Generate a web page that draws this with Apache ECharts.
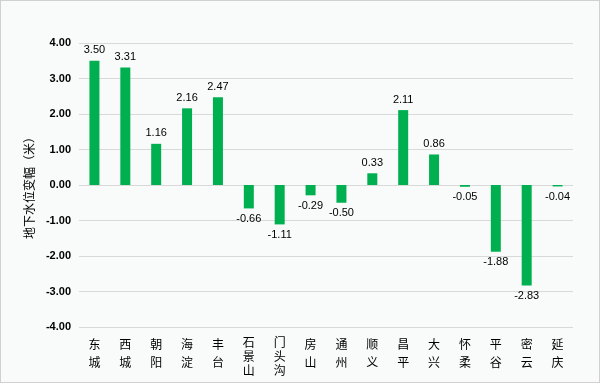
<!DOCTYPE html>
<html><head><meta charset="utf-8">
<script src="https://cdn.jsdelivr.net/npm/echarts@6/dist/echarts.min.js"></script>
<style>html,body{margin:0;padding:0;background:#fff}#c{width:600px;height:383px;box-sizing:border-box;border:1px solid #d0d0d0;background:#f9fafa}</style>
</head><body><div id="c"></div>
<script>
const categories = ["东城","西城","朝阳","海淀","丰台","石景山","门头沟","房山","通州","顺义","昌平","大兴","怀柔","平谷","密云","延庆"];
const values = [3.50,3.31,1.16,2.16,2.47,-0.66,-1.11,-0.29,-0.50,0.33,2.11,0.86,-0.05,-1.88,-2.83,-0.04];
const yTicks = {min:-4, max:4, interval:1};
const yName = "地下水位变幅（米）";

const chart = echarts.init(document.getElementById('c'), null, {renderer:'canvas'});
chart.setOption({
  backgroundColor: 'transparent',
  animation: false,
  grid: {left: 78, right: 26, top: 42, bottom: 55},
  xAxis: {
    type: 'category',
    data: categories,
    axisLine: {show: false},
    axisTick: {show: false},
    axisLabel: {
      interval: 0,
      margin: 8,
      formatter: v => (v.length > 2 ? '{s|' : '{d|') + v.split('').join('\n') + '}',
      rich: {
        d: {color: '#000', fontSize: 12, lineHeight: 18, fontFamily: '"Noto Sans CJK SC", sans-serif'},
        s: {color: '#000', fontSize: 12, lineHeight: 14, fontFamily: '"Noto Sans CJK SC", sans-serif'}
      }
    }
  },
  yAxis: {
    type: 'value',
    min: yTicks.min, max: yTicks.max, interval: yTicks.interval,
    name: yName,
    nameLocation: 'middle',
    nameGap: 44,
    nameRotate: 90,
    nameTextStyle: {color: '#000', fontSize: 12, fontFamily: '"Noto Sans CJK SC", serif'},
    axisLine: {show: false},
    axisTick: {show: false},
    splitLine: {lineStyle: {color: '#d9d9d9', width: 1}},
    axisLabel: {
      color: '#000', fontSize: 11, fontWeight: 'bold', margin: 8,
      fontFamily: '"Liberation Sans", Arial, sans-serif',
      formatter: v => v.toFixed(2)
    }
  },
  series: [{
    type: 'bar',
    data: values.map(v => ({
      value: v,
      label: {position: v >= 0 ? 'top' : 'bottom'}
    })),
    barWidth: 10,
    itemStyle: {color: '#00b050'},
    label: {
      show: true,
      color: '#000',
      fontSize: 11,
      distance: 5,
      fontFamily: '"Liberation Sans", Arial, sans-serif',
      formatter: p => p.value.toFixed(2)
    }
  }]
});
</script></body></html>
